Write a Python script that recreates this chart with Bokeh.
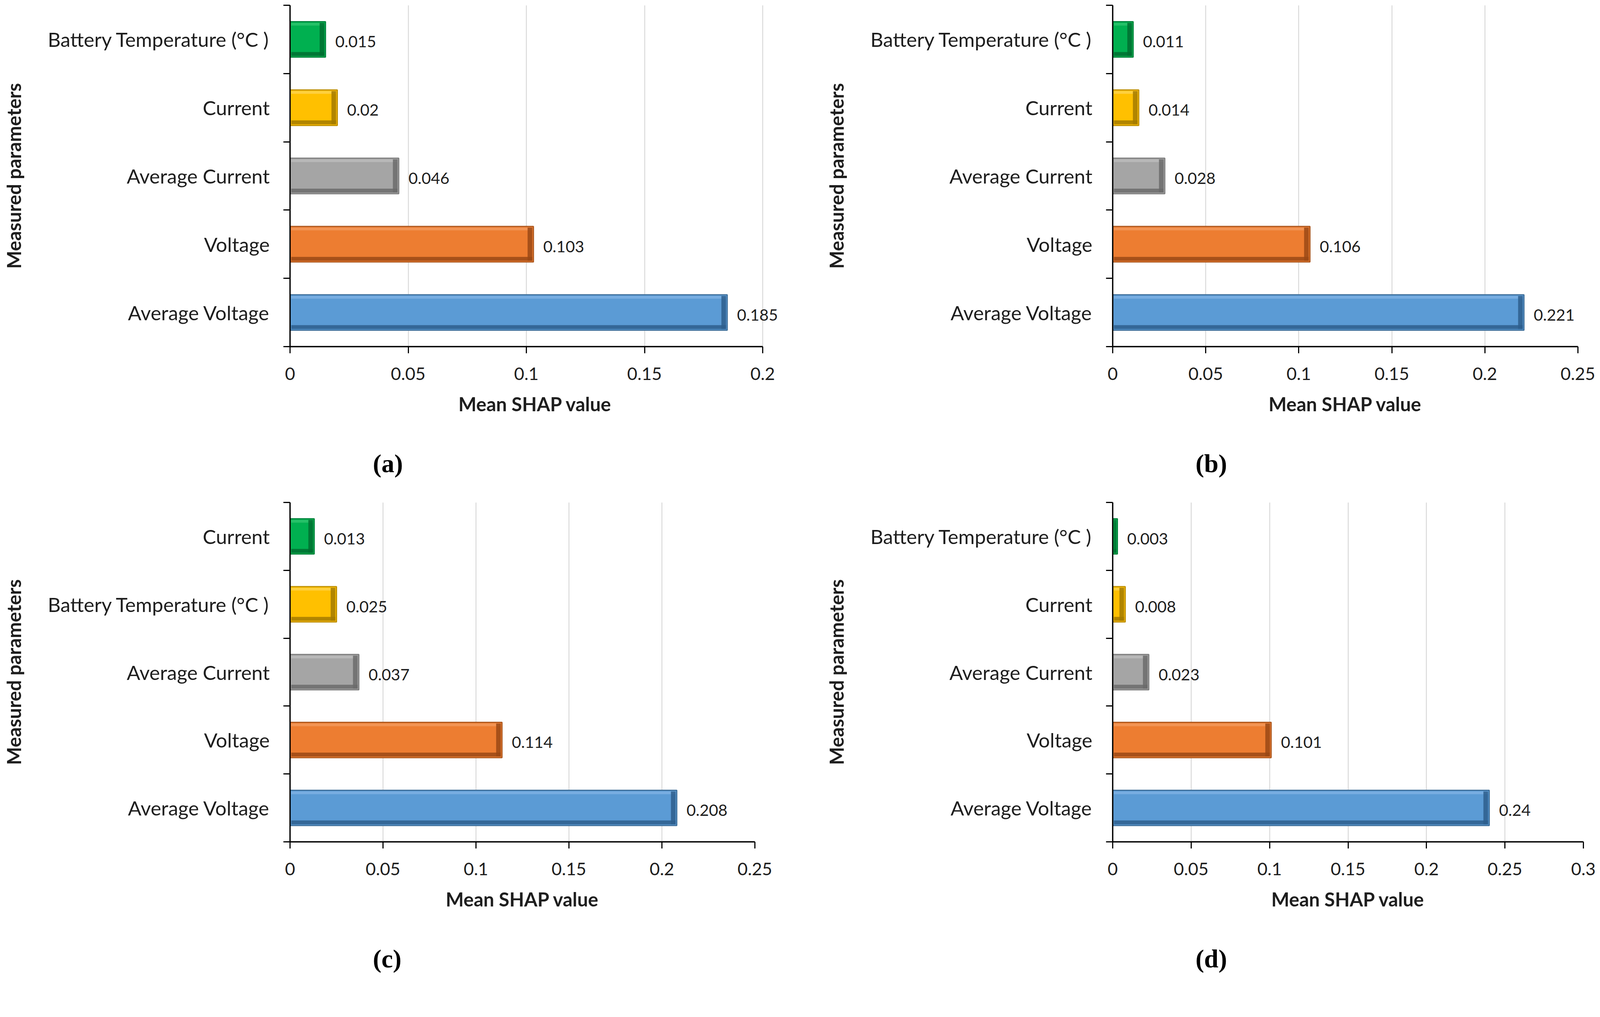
from bokeh.plotting import figure
from bokeh.layouts import row, column
from bokeh.models import (LinearAxis, FixedTicker, Range1d, NumeralTickFormatter,
                          Title, ColumnDataSource, LabelSet)
from bokeh.core.properties import value
from bokeh.embed import file_html
from bokeh.resources import INLINE

# ---------------- data (bottom -> top) ----------------
cats_a = ["Average Voltage", "Voltage", "Average Current", "Current", "Battery Temperature (°C )"]
vals_a = [0.185, 0.103, 0.046, 0.02, 0.015]
xmax_a = 0.2

cats_b = ["Average Voltage", "Voltage", "Average Current", "Current", "Battery Temperature (°C )"]
vals_b = [0.221, 0.106, 0.028, 0.014, 0.011]
xmax_b = 0.25

cats_c = ["Average Voltage", "Voltage", "Average Current", "Battery Temperature (°C )", "Current"]
vals_c = [0.208, 0.114, 0.037, 0.025, 0.013]
xmax_c = 0.25

cats_d = ["Average Voltage", "Voltage", "Average Current", "Current", "Battery Temperature (°C )"]
vals_d = [0.24, 0.101, 0.023, 0.008, 0.003]
xmax_d = 0.3

x_step = 0.05
panel_tags = ["(a)", "(b)", "(c)", "(d)"]

# colours by position (bottom -> top)
bar_fill = ["#5B9BD5", "#ED7D31", "#A5A5A5", "#FFC000", "#00B050"]
bar_edge = ["#41719C", "#AE5A21", "#7F7F7F", "#BF9000", "#00843C"]
bar_dark = ["#2E5E8C", "#9A4815", "#6B6B6B", "#A37A00", "#006E30"]
bar_light = ["#7FB2E3", "#F39A5E", "#BDBDBD", "#FFD34D", "#2EC46E"]

FONT = "Lato"
TXT = "#1e1e1e"


def make_panel(cats, vals, xmax, tag, width, height, mbl, mbr, mbt, mbb, extra=0):
    n = len(cats)
    frame_w = width - mbl - mbr
    frame_h = height - mbt - mbb
    data_w = frame_w - extra
    ux = xmax / data_w           # data units per pixel (x)
    uy = n / frame_h             # data units per pixel (y)

    p = figure(width=width, height=height, output_backend="svg", toolbar_location=None,
               x_range=Range1d(0, xmax + extra * ux), y_range=Range1d(0, n),
               y_axis_location=None,
               min_border_left=mbl, min_border_right=mbr,
               min_border_top=mbt, min_border_bottom=mbb)
    p.outline_line_color = None
    p.background_fill_color = "white"
    p.border_fill_color = "white"

    xticks = [round(k * x_step, 2) for k in range(int(round(xmax / x_step)) + 1)]

    # x axis
    xa = p.xaxis[0]
    xa.ticker = FixedTicker(ticks=xticks)
    xa.bounds = (0, xmax)
    xa.formatter = NumeralTickFormatter(format="0.[00]")
    xa.axis_line_color = "black"
    xa.axis_line_width = 3.4
    xa.major_tick_line_color = "black"
    xa.major_tick_line_width = 2.9
    xa.major_tick_out = 17
    xa.major_tick_in = 0
    xa.minor_tick_line_color = None
    xa.major_label_text_font = FONT
    xa.major_label_text_font_size = "45px"
    xa.major_label_text_color = TXT
    xa.major_label_standoff = 36
    xa.axis_label = "Mean SHAP value"
    xa.axis_label_text_font = FONT
    xa.axis_label_text_font_style = "bold"
    xa.axis_label_text_font_size = "49px"
    xa.axis_label_text_color = TXT
    xa.axis_label_standoff = 29

    p.xgrid.ticker = FixedTicker(ticks=xticks)
    p.xgrid.grid_line_color = "#D9D9D9"
    p.xgrid.grid_line_width = 2.4
    p.ygrid.visible = False

    # inner y axis: line + ticks at category boundaries
    bticks = list(range(n + 1))
    ya_in = LinearAxis(ticker=FixedTicker(ticks=bticks),
                       major_label_overrides={t: "" for t in bticks},
                       major_label_standoff=0,
                       axis_line_color="black", axis_line_width=3.4,
                       major_tick_line_color="black", major_tick_line_width=2.9,
                       major_tick_out=17, major_tick_in=0,
                       minor_tick_line_color=None)
    # outer y axis: category names at centres
    centres = [i + 0.5 for i in range(n)]
    ya_out = LinearAxis(ticker=FixedTicker(ticks=centres),
                        major_label_overrides={c: name for c, name in zip(centres, cats)},
                        axis_line_color=None, major_tick_line_color=None,
                        minor_tick_line_color=None, major_tick_out=0, major_tick_in=0,
                        major_label_standoff=35,
                        major_label_text_font=FONT, major_label_text_font_size="51px",
                        major_label_text_color=TXT,
                        axis_label="Measured parameters",
                        axis_label_text_font=FONT, axis_label_text_font_style="bold",
                        axis_label_text_font_size="49px", axis_label_text_color=TXT,
                        axis_label_standoff=55)
    p.add_layout(ya_in, "left")
    p.add_layout(ya_out, "left")

    # bars with a bevel look
    bh = 0.52
    ix, iy = 3 * ux, 3 * uy
    src = ColumnDataSource(dict(
        y=centres, v=vals,
        fill=bar_fill[:n], edge=bar_edge[:n], dark=bar_dark[:n], light=bar_light[:n],
        lab=[str(v) for v in vals],
        in_l=[min(ix, v / 2) for v in vals],
        in_r=[max(v - ix, min(ix, v / 2)) for v in vals],
        rb_l=[max(min(ix, v / 2), v - ix - 12 * ux) for v in vals],
        top_y=[c + bh / 2 - iy - 3.5 * uy for c in centres],
        bot_y=[c - bh / 2 + iy + 5 * uy for c in centres],
    ))
    p.hbar(y="y", left=0, right="v", height=bh, fill_color="fill",
           line_color="edge", line_width=3, source=src)
    p.hbar(y="top_y", left="in_l", right="in_r", height=7 * uy, fill_color="light",
           line_color=None, fill_alpha=0.8, source=src)
    p.hbar(y="bot_y", left="in_l", right="in_r", height=10 * uy, fill_color="dark",
           line_color=None, fill_alpha=0.85, source=src)
    p.hbar(y="y", left="rb_l", right="in_r", height=bh - 2 * iy, fill_color="dark",
           line_color=None, fill_alpha=0.85, source=src)

    # value labels
    labels = LabelSet(x="v", y="y", text="lab", source=src, x_offset=25, y_offset=-6,
                      text_baseline="middle", text_align="left",
                      text_font=value(FONT), text_font_size=value("41px"),
                      text_color=TXT)
    p.add_layout(labels)

    # invisible spacer axis, then the panel tag
    spacer = LinearAxis(ticker=FixedTicker(ticks=[0]), major_label_overrides={0: ""},
                        major_tick_out=84, major_tick_in=0, major_tick_line_color=None,
                        axis_line_color=None, minor_tick_line_color=None,
                        major_label_standoff=0)
    p.add_layout(spacer, "below")
    t = Title(text=tag, align="left", offset=212, standoff=0, vertical_align="top",
              text_font="Liberation Serif", text_font_style="bold",
              text_font_size="66px", text_color="black")
    p.add_layout(t, "below")
    return p


pa = make_panel(cats_a, vals_a, xmax_a, panel_tags[0], 2096, 1254, 742, 99, 13, 367, extra=45)
pb = make_panel(cats_b, vals_b, xmax_b, panel_tags[1], 1991, 1254, 752, 48, 13, 367)
pc = make_panel(cats_c, vals_c, xmax_c, panel_tags[2], 2096, 1254, 742, 164, 32, 353)
pd = make_panel(cats_d, vals_d, xmax_d, panel_tags[3], 1991, 1254, 752, 34, 32, 353)

layout = column(row(pa, pb), row(pc, pd))
open("out.html", "w").write(file_html(layout, INLINE))
